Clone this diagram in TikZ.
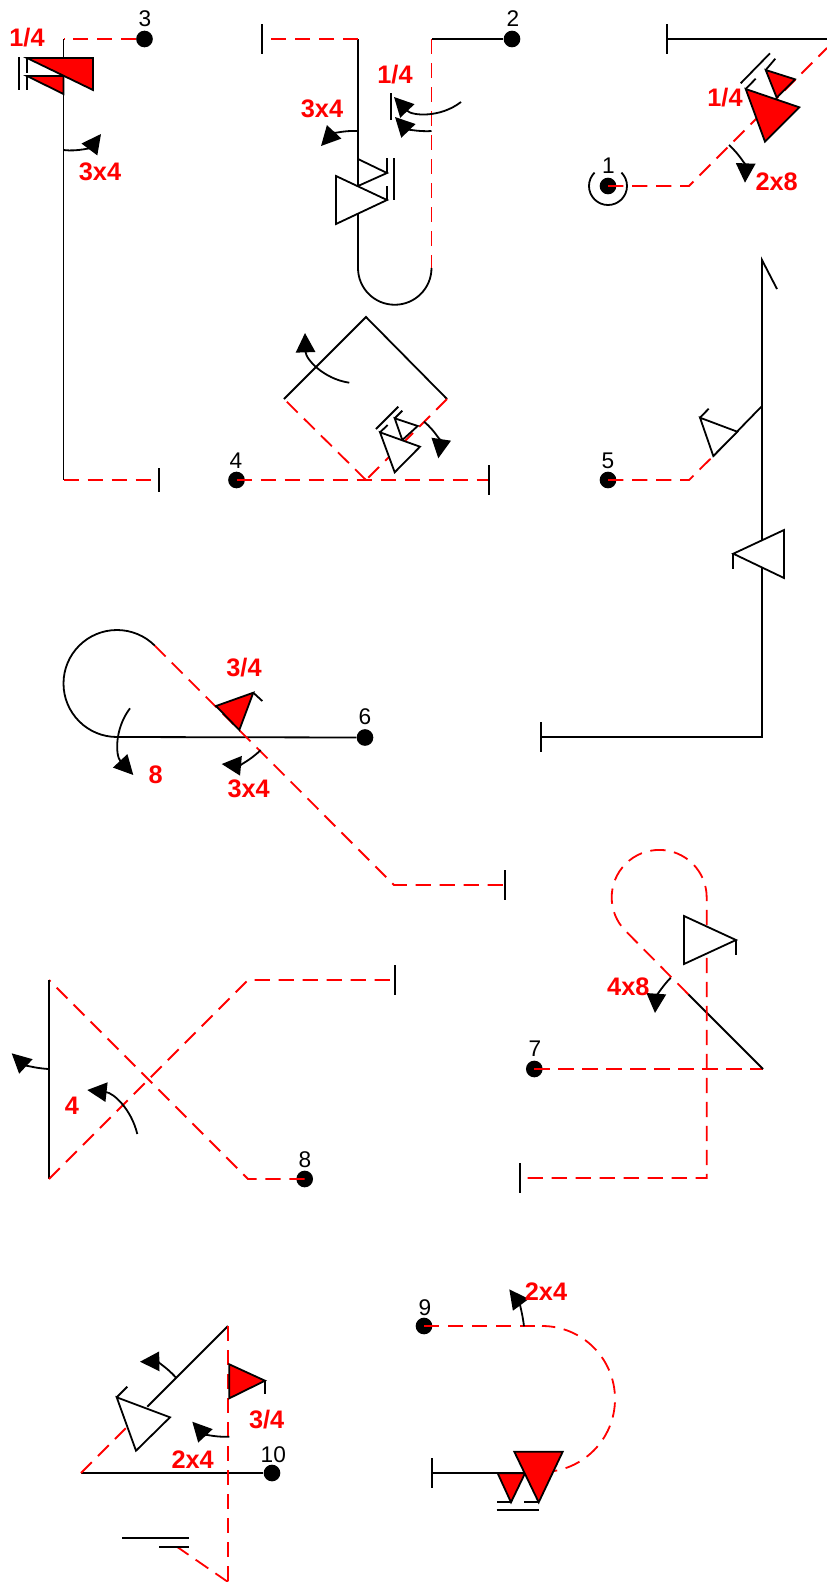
\documentclass[tikz,border=0pt]{standalone}
\usepackage{fontspec}
\setmainfont{Liberation Sans}
\usetikzlibrary{arrows.meta}
\tikzset{
  route/.style={draw=red,line width=1.35pt,dash pattern=on 11.5pt off 6.5pt},
  solidline/.style={draw=black,line width=1.35pt},
  thintick/.style={draw=black,line width=1.35pt},
  whitetri/.style={draw=black,fill=white,line width=1.35pt,line join=miter},
  redtri/.style={draw=black,fill=red,line width=1.35pt,line join=miter},
  turnarrow/.style={draw=black,line width=1.35pt,-{Triangle[length=14.5pt,width=14.5pt]}},
  dotnode/.style={circle,fill=black,inner sep=0pt,minimum size=12.5pt},
  numlabel/.style={font=\fontsize{17}{17}\selectfont,inner sep=0pt,text=black},
  redlabel/.style={font=\fontsize{19}{19}\selectfont\bfseries,inner sep=0pt,text=red}
}
\begin{document}
\begin{tikzpicture}[x=0.75pt,y=-0.75pt]
\path[use as bounding box] (0,0) rectangle (827,1582);

% ---- 3
\node[dotnode] (n3) at (144.5,39) {};
\node[numlabel] (l3) at (145,19) {3};
\coordinate (a1) at (63.5,39);
\coordinate (a2) at (63.5,480);
\coordinate (a3) at (159,480);
\draw[route] (n3) -- (a1);
\draw[solidline] (a1) -- (a2);
\draw[route] (a2) -- (a3);
\draw[thintick] (159,468) -- (159,492);
\draw[redtri] (27,58) -- (93,58) -- (93,90) -- cycle;
\draw[redtri] (27,76) -- (63.5,76) -- (63.5,94) -- cycle;
\draw[thintick] (27,58) -- (27,73);
\draw[thintick] (27,76) -- (27,90);
\draw[thintick] (19,57) -- (19,90);
\coordinate (a3s) at (63.5,150);
\coordinate (a3t) at (101,134);
\draw[turnarrow] (a3s) to[bend right=30] (a3t);
\node[redlabel] (t3a) at (27,38) {1/4};
\node[redlabel] (t3b) at (100,172) {3x4};

% ---- 2
\node[dotnode] (n2) at (512,39) {};
\node[numlabel] (l2) at (513,19) {2};
\coordinate (b1) at (431.5,39);
\coordinate (b2) at (431.5,268);
\coordinate (b3) at (358,268);
\coordinate (b4) at (358,39);
\coordinate (b5) at (262,39);
\draw[solidline] (n2) -- (b1);
\draw[route] (b1) -- (b2);
\draw[solidline] (b2) arc[start angle=0,end angle=180,radius=36.75];
\draw[solidline] (b3) -- (b4);
\draw[route] (b4) -- (b5);
\draw[thintick] (262,24) -- (262,54);
\draw[whitetri] (358,159) -- (387,173) -- (358,186) -- cycle;
\draw[solidline] (358,150) -- (358,190);
\draw[whitetri] (336,176) -- (387,200) -- (336,224) -- cycle;
\draw[thintick] (387,158) -- (387,173);
\draw[thintick] (387,186) -- (387,200);
\draw[thintick] (394,158) -- (394,200);
\draw[thintick] (391,93) -- (391,120);
\coordinate (a2as) at (461,102);
\coordinate (a2at) at (394,97);
\coordinate (a2bs) at (431.5,131);
\coordinate (a2bt) at (395,117);
\coordinate (a2cs) at (358,131);
\coordinate (a2ct) at (321,146);
\draw[turnarrow] (a2as) to[bend left=42] (a2at);
\draw[turnarrow] (a2bs) to[bend left=25] (a2bt);
\draw[turnarrow] (a2cs) to[bend right=25] (a2ct);
\node[redlabel] (t2a) at (395,75) {1/4};
\node[redlabel] (t2b) at (322,109) {3x4};

% ---- 1
\node[dotnode] (n1) at (608,186) {};
\node[numlabel] (l1) at (608.5,166) {1};
\draw[solidline] (n1.center) ++(-135:19) arc[start angle=-135,end angle=-405,radius=19];
\coordinate (c1) at (689,186);
\coordinate (c2) at (827,48);
\draw[route] (n1.center) -- (c1) -- (c2);
\draw[solidline] (667,39) -- (827,39);
\draw[thintick] (667,24) -- (667,54);
\draw[redtri] (765.7,70) -- (795,79.3) -- (776.7,97.7) -- cycle;
\draw[redtri] (745.7,89) -- (799.3,107.3) -- (765,141.7) -- cycle;
\draw[thintick] (745.7,89) -- (755.7,78.7);
\draw[thintick] (765.7,70) -- (775.3,58.7);
\draw[thintick] (740.7,83.3) -- (770,53.3);
\coordinate (a1s) at (729,145);
\coordinate (a1t) at (745,182.7);
\draw[turnarrow] (a1s) to[bend left=25] (a1t);
\node[redlabel] (t1a) at (725,98) {1/4};
\node[redlabel] (t1b) at (776.7,182) {2x8};

% ---- 4
\node[dotnode] (n4) at (236.5,480) {};
\node[numlabel] (l4) at (236,461) {4};
\coordinate (d1) at (489,480);
\coordinate (d2) at (366,480);
\coordinate (d3) at (284,399);
\coordinate (d4) at (366,317);
\coordinate (d5) at (447,399);
\draw[route] (n4.center) -- (d1);
\draw[thintick] (489,465) -- (489,495);
\draw[route] (d2) -- (d3);
\draw[solidline,line join=miter] (d3) -- (d4) -- (d5);
\draw[route] (d5) -- (d2);
\draw[whitetri] (394.7,418.3) -- (417.7,426) -- (402.3,440) -- cycle;
\draw[whitetri] (380,432.3) -- (420,446.7) -- (394.7,472.3) -- cycle;
\draw[thintick] (380,432.3) -- (387.7,425);
\draw[thintick] (394.7,418.3) -- (402.3,410.7);
\draw[thintick] (376,429) -- (398.3,406.7);
\coordinate (a4as) at (349.3,382.7);
\coordinate (a4at) at (305,333);
\coordinate (a4bs) at (424,421.7);
\coordinate (a4bt) at (438.3,458.3);
\draw[turnarrow] (a4as) to[bend left=40] (a4at);
\draw[turnarrow] (a4bs) to[bend left=30] (a4bt);

% ---- 5
\node[dotnode] (n5) at (608,480) {};
\node[numlabel] (l5) at (608,461) {5};
\coordinate (e1) at (689,480);
\coordinate (e2) at (713.3,456);
\coordinate (e3) at (762,406);
\coordinate (e4) at (762,260);
\coordinate (e5) at (777,289);
\coordinate (e6) at (762,737);
\coordinate (e7) at (541,737);
\draw[route] (n5.center) -- (e1) -- (e2);
\draw[solidline] (e2) -- (e3);
\draw[solidline] (e3) -- (e4) -- (e5);
\draw[solidline] (e3) -- (e6) -- (e7);
\draw[thintick] (541,722) -- (541,752);
\draw[whitetri] (700,417.7) -- (737.3,431.7) -- (713.3,456) -- cycle;
\draw[thintick] (700,417.7) -- (708.7,408.7);
\draw[whitetri] (733.3,553.7) -- (784,530) -- (784,578) -- cycle;
\draw[thintick] (733.3,553.7) -- (733.3,569);

% ---- 6
\node[dotnode] (n6) at (365,737.5) {};
\node[numlabel] (l6) at (365,717) {6};
\coordinate (f1) at (117,737);
\coordinate (f2) at (154.8,645.7);
\coordinate (f3) at (394,885);
\coordinate (f4) at (505,885);
\draw[solidline] (n6) -- (f1);
\draw[solidline] (f1) arc[start angle=90,end angle=315,radius=53.5];
\draw[route] (f2) -- (f3) -- (f4);
\draw[thintick] (505,870) -- (505,900);
\draw[redtri] (216,706) -- (253.3,692.7) -- (239.3,730) -- cycle;
\draw[thintick] (253.3,692.7) -- (262.3,701);
\coordinate (a6as) at (130,708.3);
\coordinate (a6at) at (133.3,775);
\coordinate (a6bs) at (260.7,750);
\coordinate (a6bt) at (221.7,764);
\draw[turnarrow] (a6as) to[bend right=40] (a6at);
\draw[turnarrow] (a6bs) to[bend left=25] (a6bt);
\node[redlabel] (t6a) at (244,667.3) {3/4};
\node[redlabel] (t6b) at (155.7,775) {8};
\node[redlabel] (t6c) at (248.7,789) {3x4};

% ---- 7
\node[dotnode] (n7) at (534.3,1069) {};
\node[numlabel] (l7) at (535,1049) {7};
\coordinate (g1) at (763,1069);
\coordinate (g2) at (688.3,994.3);
\coordinate (g3) at (625.6,931);
\coordinate (g4) at (706.7,897.5);
\coordinate (g5) at (706.7,1178);
\coordinate (g6) at (520,1178);
\draw[route] (n7.center) -- (g1);
\draw[solidline] (g1) -- (g2);
\draw[route] (g2) -- (g3) arc[start angle=-225,end angle=0,radius=47.5] -- (g5) -- (g6);
\draw[thintick] (520,1163) -- (520,1193);
\draw[whitetri] (684,916) -- (736,940) -- (684,964) -- cycle;
\draw[thintick] (736,940) -- (736,955);
\coordinate (a7s) at (670.7,977.7);
\coordinate (a7t) at (655,1013);
\draw[turnarrow] (a7s) to[bend right=20] (a7t);
\node[redlabel] (t7) at (628.3,986.7) {4x8};

% ---- 8
\node[dotnode] (n8) at (304.7,1179) {};
\node[numlabel] (l8) at (305,1160) {8};
\coordinate (h1) at (248,1179);
\coordinate (h2) at (49,980);
\coordinate (h3) at (49,1179);
\coordinate (h4) at (248,980);
\coordinate (h5) at (395,980);
\draw[route] (n8.center) -- (h1) -- (h2);
\draw[solidline] (h2) -- (h3);
\draw[route] (h3) -- (h4) -- (h5);
\draw[thintick] (395,965) -- (395,995);
\coordinate (a8as) at (49,1069);
\coordinate (a8at) at (11.7,1053.3);
\coordinate (a8bs) at (137.3,1134);
\coordinate (a8bt) at (87.3,1090);
\draw[turnarrow] (a8as) to[bend left=20] (a8at);
\draw[turnarrow] (a8bs) to[bend right=35] (a8bt);
\node[redlabel] (t8) at (72,1105.7) {4};

% ---- 10
\node[dotnode] (n10) at (272,1473) {};
\node[numlabel] (l10) at (273.3,1455) {10};
\coordinate (i1) at (81,1473);
\coordinate (i2) at (147.3,1406.7);
\coordinate (i3) at (228,1326);
\coordinate (i4) at (228,1582);
\coordinate (i5) at (177.3,1547);
\draw[solidline] (n10) -- (i1);
\draw[route] (i1) -- (i2);
\draw[solidline] (i2) -- (i3);
\draw[route] (i3) -- (i4);
\draw[route] (i4) -- (i5);
\draw[thintick] (159,1547) -- (189.3,1547);
\draw[thintick] (122,1537.7) -- (189.3,1537.7);
\draw[whitetri] (116.7,1397.3) -- (170,1417.3) -- (136,1450.7) -- cycle;
\draw[thintick] (116.7,1397.3) -- (127.3,1386.7);
\draw[redtri] (229.3,1364.3) -- (265,1380.7) -- (229.3,1398.3) -- cycle;
\draw[thintick] (265,1380.7) -- (265,1394);
\coordinate (a10as) at (176,1377.7);
\coordinate (a10at) at (140,1361.7);
\coordinate (a10bs) at (229.3,1436.7);
\coordinate (a10bt) at (192.3,1421.7);
\draw[turnarrow] (a10as) to[bend right=25] (a10at);
\draw[turnarrow] (a10bs) to[bend left=25] (a10bt);
\node[redlabel] (t10a) at (266.7,1420) {3/4};
\node[redlabel] (t10b) at (192.7,1459.3) {2x4};

% ---- 9
\node[dotnode] (n9) at (424,1326) {};
\node[numlabel] (l9) at (425,1308) {9};
\coordinate (j1) at (542,1326);
\coordinate (j2) at (525,1473);
\coordinate (j3) at (431.7,1473);
\coordinate (j4) at (542,1472);
\draw[route] (n9.center) -- (j1);
\draw[route] (j4) arc[start angle=90,end angle=-90,radius=73];
\draw[solidline] (j2) -- (j3);
\draw[thintick] (431.7,1458) -- (431.7,1488);
\draw[redtri] (497.7,1473.3) -- (525,1473.3) -- (511,1502.3) -- cycle;
\draw[redtri] (514.3,1451.7) -- (562.7,1451.7) -- (538.7,1502.3) -- cycle;
\draw[thintick] (511,1502.3) -- (496.7,1502.3);
\draw[thintick] (538.7,1502.3) -- (524.3,1502.3);
\draw[thintick] (496.7,1510) -- (538.7,1510);
\coordinate (a9s) at (524,1326.3);
\coordinate (a9t) at (509.3,1289.3);
\draw[turnarrow] (a9s) to[bend right=15] (a9t);
\node[redlabel] (t9) at (546,1291.7) {2x4};
\end{tikzpicture}
\end{document}
